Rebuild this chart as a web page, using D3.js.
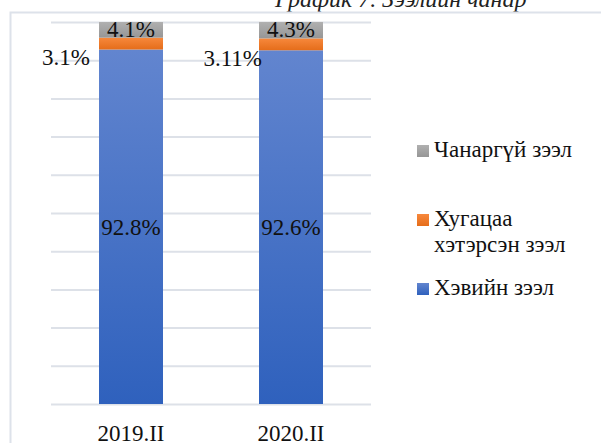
<!DOCTYPE html>
<html>
<head>
<meta charset="utf-8">
<script src="https://cdn.jsdelivr.net/npm/d3@7"></script>
<style>
  html, body { margin: 0; padding: 0; background: #fff; overflow: hidden; }
  svg { display: block; font-family: "Liberation Serif", "Times New Roman", "DejaVu Serif", serif; }
</style>
</head>
<body>
<div id="chart"></div>
<script>
// ── Data ────────────────────────────────────────────────────────────────
const categories = ['2019.II', '2020.II'];
const normal  = [92.8, 92.6];   // Хэвийн зээл
const overdue = [3.1, 3.11];    // Хугацаа хэтэрсэн зээл
const bad     = [4.1, 4.3];     // Чанаргүй зээл
const yTicks  = d3.range(0, 101, 10);

const W = 601, H = 443;
const M = { top: 22, left: 51, right: 230, bottom: 39 };

const svg = d3.select('#chart').append('svg')
  .attr('width', W).attr('height', H);

// ── Gradients ───────────────────────────────────────────────────────────
const defs = svg.append('defs');
function grad(id, c0, c1) {
  const g = defs.append('linearGradient').attr('id', id)
    .attr('x1', 0).attr('y1', 0).attr('x2', 0).attr('y2', 1);
  g.append('stop').attr('offset', '0%').attr('stop-color', c0);
  g.append('stop').attr('offset', '100%').attr('stop-color', c1);
}
grad('gBlue', '#6285cf', '#2f61bd');
grad('gOrange', '#f7883c', '#e56d1a');
grad('gGray', '#b0b0b0', '#969696');

// ── Title (cut off at top) + frame ─────────────────────────────────────
svg.append('text')
  .attr('x', 275).attr('y', 7)
  .attr('font-size', 24).attr('font-style', 'italic').attr('fill', '#222')
  .text('График 7. Зээлийн чанар');

svg.append('path')
  .attr('d', `M10.5,${H} V12.5 H${W}`)
  .attr('fill', 'none').attr('stroke', '#dde2ea').attr('stroke-width', 2);

// ── Scales ──────────────────────────────────────────────────────────────
const x = d3.scaleBand().domain(categories)
  .range([M.left, W - M.right]).paddingInner(0.6).paddingOuter(0.3);
const y = d3.scaleLinear().domain([0, 100]).range([H - M.bottom, M.top]);

// ── Grid lines ──────────────────────────────────────────────────────────
svg.append('g')
  .attr('transform', `translate(${M.left},0)`)
  .call(d3.axisLeft(y).tickValues(yTicks).tickSize(-(W - M.right - M.left)).tickFormat(''))
  .call(g => g.select('.domain').remove())
  .call(g => g.selectAll('line').attr('stroke', '#dde1e8').attr('stroke-width', 2));

// ── Stacked bars ────────────────────────────────────────────────────────
const rows = categories.map((c, i) => ({ cat: c, normal: normal[i], overdue: overdue[i], bad: bad[i] }));
const keys = ['normal', 'overdue', 'bad'];
const fills = { normal: 'url(#gBlue)', overdue: 'url(#gOrange)', bad: 'url(#gGray)' };
const stacked = d3.stack().keys(keys)(rows);

svg.append('g').selectAll('g')
  .data(stacked)
  .join('g')
    .attr('fill', s => fills[s.key])
  .selectAll('rect')
  .data(s => s)
  .join('rect')
    .attr('x', d => x(d.data.cat))
    .attr('width', x.bandwidth())
    .attr('y', d => y(d[1]))
    .attr('height', d => y(d[0]) - y(d[1]));

// ── Data labels ─────────────────────────────────────────────────────────
const lbl = svg.append('g').attr('font-size', 23).attr('fill', '#111');
const fmt = v => `${v}%`;
const overdueLabelShift = [-9, 3];   // thin orange segment: label set left of bar

rows.forEach((r, i) => {
  const cx = x(r.cat) + x.bandwidth() / 2;
  lbl.append('text').attr('x', cx).attr('y', y(r.normal / 2))
    .attr('dy', '0.35em').attr('text-anchor', 'middle').text(fmt(r.normal));
  lbl.append('text').attr('x', cx)
    .attr('y', y(r.normal + r.overdue + r.bad / 2))
    .attr('dy', '0.3em').attr('text-anchor', 'middle').text(fmt(r.bad));
  lbl.append('text').attr('x', x(r.cat) + overdueLabelShift[i])
    .attr('y', y(r.normal - 2))
    .attr('dy', '0.35em').attr('text-anchor', 'end').text(fmt(r.overdue));
});

// ── Category axis ───────────────────────────────────────────────────────
svg.append('g').attr('font-size', 23).attr('fill', '#111')
  .selectAll('text').data(categories).join('text')
    .attr('x', d => x(d) + x.bandwidth() / 2)
    .attr('y', H - 2)
    .attr('text-anchor', 'middle')
    .text(d => d);

// ── Legend ──────────────────────────────────────────────────────────────
const legend = [
  { lines: ['Чанаргүй зээл'], fill: 'url(#gGray)', y: 157 },
  { lines: ['Хугацаа', 'хэтэрсэн зээл'], fill: 'url(#gOrange)', y: 226 },
  { lines: ['Хэвийн зээл'], fill: 'url(#gBlue)', y: 295 }
];
const lg = svg.append('g').attr('font-size', 23).attr('fill', '#111');
legend.forEach(d => {
  lg.append('rect').attr('x', 417).attr('y', d.y - 12)
    .attr('width', 12).attr('height', 12).attr('fill', d.fill);
  d.lines.forEach((t, j) => {
    lg.append('text').attr('x', 434).attr('y', d.y + j * 26).text(t);
  });
});
</script>
</body>
</html>
